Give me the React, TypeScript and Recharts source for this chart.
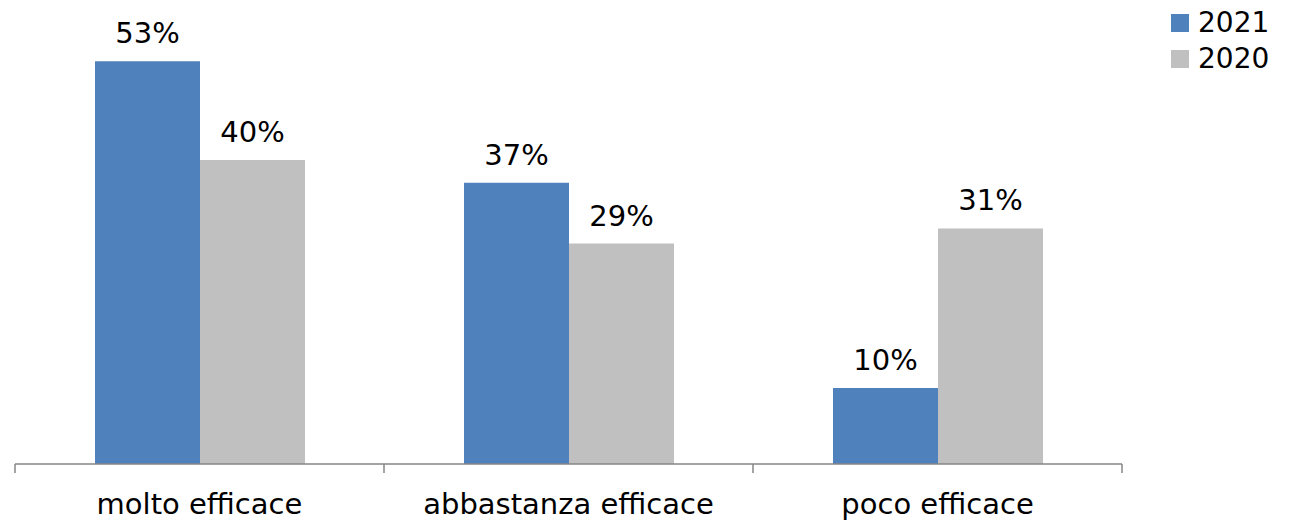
import { BarChart, Bar, XAxis, YAxis, LabelList } from 'recharts';

const categories = ['molto efficace', 'abbastanza efficace', 'poco efficace'];
const values2021 = [53, 37, 10];
const values2020 = [40, 29, 31];
const seriesNames = ['2021', '2020'];
const seriesColors = ['#4F81BD', '#C0C0C0'];

const FONT = '"DejaVu Sans", Verdana, sans-serif';
const AXIS = '#868686';

const data = categories.map((name, i) => ({
  name,
  y2021: values2021[i],
  y2020: values2020[i],
}));

// label in the band centre, tick marks on the band boundaries
function AxisTick(props: any) {
  const { x, y, payload, index, visibleTicksCount, width } = props;
  const half = width / visibleTicksCount / 2;
  const isLast = index === visibleTicksCount - 1;
  return (
    <g>
      <line x1={x - half} y1={y} x2={x - half} y2={y + 9} stroke={AXIS} strokeWidth={1.5} />
      {isLast && <line x1={x + half} y1={y} x2={x + half} y2={y + 9} stroke={AXIS} strokeWidth={1.5} />}
      <text x={x} y={y + 50} textAnchor="middle" fontSize={29} fontFamily={FONT} fill="#000">
        {payload.value}
      </text>
    </g>
  );
}

export default function App() {
  return (
    <div style={{ position: 'absolute', left: 0, top: 0, width: 1291, height: 522, background: '#fff' }}>
      <BarChart
        width={1291}
        height={522}
        data={data}
        margin={{ top: 8, right: 169, bottom: 0, left: 15 }}
        barCategoryGap={80}
        barGap={0}
      >
        <XAxis
          dataKey="name"
          type="category"
          interval={0}
          height={58}
          tickSize={0}
          tickMargin={0}
          tickLine={false}
          axisLine={{ stroke: AXIS, strokeWidth: 1.5 }}
          tick={<AxisTick />}
        />
        <YAxis hide domain={[0, 60]} />
        <Bar dataKey="y2021" name={seriesNames[0]} fill={seriesColors[0]} isAnimationActive={false}>
          <LabelList
            dataKey="y2021"
            position="top"
            offset={18}
            formatter={(v: any) => `${v}%`}
            style={{ fontSize: 29, fontFamily: FONT, fill: '#000' }}
          />
        </Bar>
        <Bar dataKey="y2020" name={seriesNames[1]} fill={seriesColors[1]} isAnimationActive={false}>
          <LabelList
            dataKey="y2020"
            position="top"
            offset={18}
            formatter={(v: any) => `${v}%`}
            style={{ fontSize: 29, fontFamily: FONT, fill: '#000' }}
          />
        </Bar>
      </BarChart>
      {/* Legend */}
      <div style={{ position: 'absolute', left: 1171, top: 5, fontFamily: FONT, fontSize: 28, color: '#000' }}>
        {seriesNames.map((s, i) => (
          <div key={s} style={{ display: 'flex', alignItems: 'center', height: 36, lineHeight: '36px' }}>
            <span style={{ width: 18, height: 18, background: seriesColors[i], marginRight: 9, display: 'inline-block' }} />
            <span>{s}</span>
          </div>
        ))}
      </div>
    </div>
  );
}
